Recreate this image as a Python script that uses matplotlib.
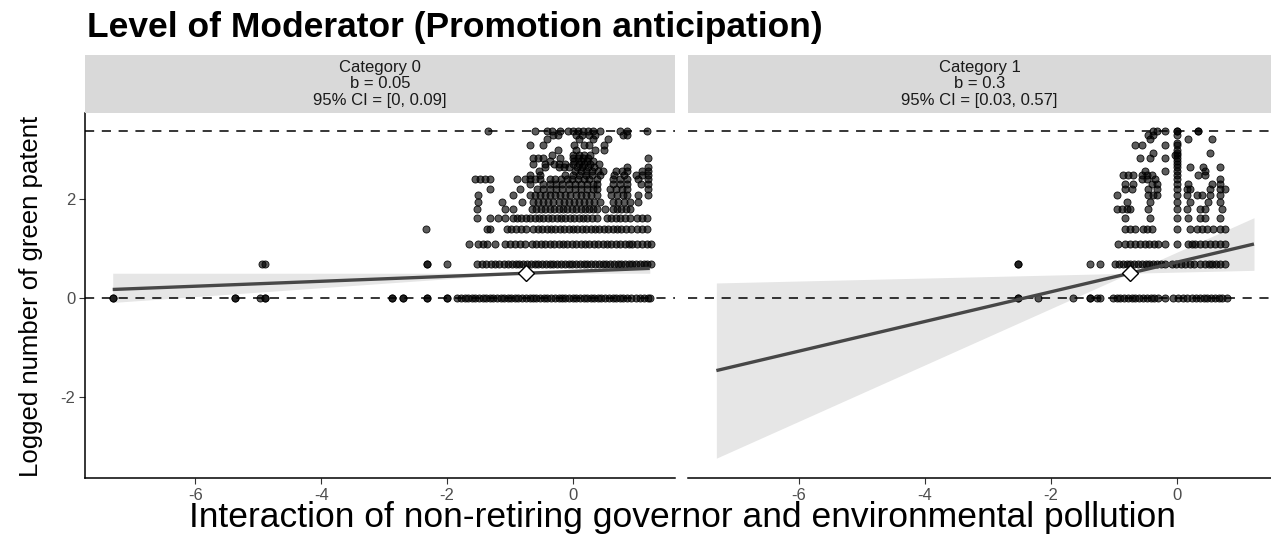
import matplotlib
matplotlib.use("Agg")
import matplotlib.pyplot as plt
import numpy as np

plt.rcParams["font.family"] = ["Liberation Sans", "DejaVu Sans"]
plt.rcParams["axes.unicode_minus"] = False

# logged outcome levels (ln of patent counts) and x positions of observations at each level
left_levels = [0.0, 0.69, 1.10, 1.39, 1.61, 1.79, 1.95, 2.08, 2.20, 2.30, 2.40, 2.48,
               2.56, 2.64, 2.71, 2.77, 2.83, 2.89, 3.00, 3.09, 3.22, 3.30, 3.37]
left_rows = [
    [-7.31, -7.31, -5.37, -5.37, -4.97, -4.89, -4.89, -2.87, -2.87, -2.70, -2.70, -2.32, -2.32,
     -2.00, -2.00, -1.84, -1.78, -1.72, -1.66, -1.60, -1.55, -1.49, -1.43, -1.38, -1.32, -1.27,
     -1.21, -1.15, -1.10, -1.04, -0.98, -0.92, -0.87, -0.81, -0.75, -0.69, -0.64, -0.58, -0.52,
     -0.46, -0.41, -0.35, -0.29, -0.23, -0.18, -0.12, -0.06, 0.00, 0.05, 0.11, 0.17, 0.22, 0.28,
     0.34, 0.40, 0.45, 0.51, 0.57, 0.63, 0.68, 0.74, 0.80, 0.86, 0.92, 1.00, 1.06, 1.12, 1.19, 1.23],
    [-4.94, -4.89, -2.32, -2.32, -2.00, -1.52, -1.45, -1.38, -1.31, -1.24, -1.17, -1.10, -1.03,
     -0.97, -0.91, -0.85, -0.79, -0.73, -0.67, -0.61, -0.55, -0.49, -0.43, -0.37, -0.31, -0.25,
     -0.19, -0.13, -0.07, -0.01, 0.05, 0.11, 0.17, 0.23, 0.29, 0.35, 0.41, 0.47, 0.53, 0.59, 0.65,
     0.71, 0.77, 0.83, 0.89, 0.94, 1.00, 1.06, 1.12, 1.18, 1.24],
    [-1.65, -1.51, -1.43, -1.37, -1.24, -1.08, -1.00, -0.92, -0.84, -0.76, -0.65, -0.58, -0.51,
     -0.44, -0.37, -0.30, -0.23, -0.16, -0.09, -0.02, 0.05, 0.12, 0.19, 0.26, 0.33, 0.40, 0.47,
     0.54, 0.61, 0.68, 0.75, 0.82, 0.89, 0.94, 1.02, 1.10, 1.18, 1.24],
    [-2.33, -1.37, -1.32, -1.05, -0.98, -0.90, -0.82, -0.74, -0.63, -0.56, -0.49, -0.42, -0.35,
     -0.28, -0.21, -0.14, -0.07, 0.00, 0.07, 0.14, 0.21, 0.28, 0.35, 0.42, 0.49, 0.56, 0.63, 0.70,
     0.77, 0.84, 0.92, 1.02, 1.10, 1.18],
    [-1.52, -1.32, -1.19, -1.08, -0.95, -0.89, -0.82, -0.75, -0.68, -0.61, -0.54, -0.47, -0.40,
     -0.33, -0.26, -0.19, -0.12, -0.05, 0.02, 0.09, 0.16, 0.23, 0.30, 0.38, 0.54, 0.61, 0.68, 0.75,
     0.82, 0.90, 1.02, 1.10, 1.18],
    [-1.52, -1.08, -0.95, -0.65, -0.58, -0.51, -0.44, -0.37, -0.30, -0.23, -0.16, -0.09, -0.02,
     0.05, 0.12, 0.19, 0.26, 0.32, 0.38, 0.51, 0.63, 0.70, 0.77, 0.84, 0.90],
    [-1.51, -1.13, -0.81, -0.63, -0.55, -0.47, -0.39, -0.31, -0.23, -0.15, -0.07, 0.01, 0.09,
     0.17, 0.25, 0.33, 0.43, 0.63, 0.72, 0.81, 0.90, 1.03],
    [-1.51, -0.95, -0.68, -0.60, -0.52, -0.44, -0.36, -0.28, -0.20, -0.12, -0.04, 0.04, 0.12,
     0.20, 0.28, 0.38, 0.60, 0.70, 0.80, 0.86, 1.03, 1.19],
    [-1.32, -0.84, -0.57, -0.47, -0.37, -0.27, -0.17, -0.07, 0.03, 0.13, 0.23, 0.31, 0.38, 0.58,
     0.68, 0.78, 0.86, 1.19],
    [-0.68, -0.47, -0.37, -0.27, -0.17, -0.07, 0.03, 0.13, 0.23, 0.31, 0.38, 0.63, 0.74, 0.86,
     1.08, 1.19],
    [-1.56, -1.48, -1.40, -1.32, -0.89, -0.76, -0.68, -0.60, -0.52, -0.37, -0.28, -0.19, -0.10,
     -0.01, 0.08, 0.17, 0.26, 0.38, 0.63, 0.74, 0.86, 1.03, 1.19],
    [-0.68, -0.52, -0.13, 0.00, 0.10, 0.20, 0.30, 0.43, 0.65, 0.81, 1.00, 1.10, 1.19],
    [-0.54, 0.03, 0.12, 0.21, 0.30, 0.39, 0.48, 0.69, 0.78, 0.86, 1.10, 1.19],
    [-0.44, -0.22, -0.14, -0.06, 0.06, 0.15, 0.24, 0.33, 0.86, 1.19],
    [-0.63, -0.44, -0.30, -0.22, -0.13, 0.00, 0.09, 0.18, 0.27, 0.41],
    [-0.37, 0.02, 0.12, 0.22, 0.31],
    [-0.63, -0.55, -0.48, -0.21, 0.00, 0.08, 0.16, 0.24, 1.19],
    [-0.34, 0.00, 0.09, 0.18, 0.27],
    [-0.24, 0.05, 0.35, 0.50],
    [-0.68, -0.47, 0.02, 0.18, 0.25, 0.50],
    [-0.41, 0.10, 0.32, 0.55],
    [-0.31, -0.24, 0.05, 0.15, 0.25, 0.35, 0.79, 0.86],
    [-1.35, -0.60, -0.41, -0.33, -0.21, -0.08, 0.00, 0.08, 0.16, 0.24, 0.32, 0.43, 0.75, 0.86, 1.17],
]

right_levels = [0.0, 0.69, 1.10, 1.39, 1.61, 1.79, 1.95, 2.08, 2.20, 2.30, 2.40, 2.48, 2.56,
                2.64, 2.71, 2.77, 2.83, 2.89, 2.94, 3.00, 3.09, 3.14, 3.22, 3.30, 3.37]
right_rows = [
    [-2.52, -2.52, -2.20, -1.65, -1.38, -1.38, -1.27, -1.22, -1.02, -0.96, -0.90, -0.84, -0.78,
     -0.72, -0.66, -0.60, -0.54, -0.48, -0.42, -0.36, -0.30, -0.19, -0.06, 0.02, 0.10, 0.16, 0.24,
     0.30, 0.36, 0.42, 0.48, 0.54, 0.60, 0.66, 0.72, 0.79],
    [-2.52, -2.52, -1.38, -1.22, -0.98, -0.92, -0.86, -0.80, -0.74, -0.68, -0.62, -0.56, -0.50,
     -0.44, -0.38, -0.32, -0.26, -0.19, -0.08, -0.01, 0.06, 0.13, 0.20, 0.27, 0.37, 0.44, 0.50,
     0.56, 0.62, 0.68, 0.76],
    [-0.94, -0.83, -0.75, -0.67, -0.59, -0.51, -0.44, -0.37, -0.30, -0.19, 0.00, 0.17, 0.23, 0.29,
     0.37, 0.45, 0.53, 0.60, 0.68, 0.76],
    [-0.83, -0.75, -0.67, -0.54, -0.47, -0.40, 0.00, 0.21, 0.32, 0.40, 0.48, 0.57, 0.68, 0.76],
    [-0.83, -0.43, 0.00, 0.17, 0.37, 0.44, 0.68],
    [-0.95, -0.87, -0.79, -0.75, -0.46, 0.00, 0.16, 0.37, 0.44, 0.71],
    [-0.79, -0.43, 0.00, 0.21, 0.49, 0.68],
    [-0.95, -0.46, -0.38, -0.32, 0.00, 0.16, 0.32, 0.40, 0.52, 0.68],
    [-0.83, -0.71, -0.46, -0.32, 0.00, 0.16, 0.21, 0.52, 0.68, 0.76],
    [-0.83, -0.70, -0.40, -0.32, 0.00, 0.17, 0.55, 0.68],
    [-0.56, -0.48, -0.35, 0.00, 0.68],
    [-0.86, -0.78, -0.70, -0.56, -0.48, -0.40, 0.00, 0.33, 0.44],
    [-0.51, -0.19, 0.00, 0.44],
    [0.00, 0.21, 0.41, 0.68],
    [0.00],
    [0.00],
    [-0.59, -0.43, -0.19, 0.00],
    [-0.03, 0.00],
    [-0.38, 0.00, 0.52],
    [0.00],
    [-0.67, -0.56, -0.19, 0.00],
    [0.00],
    [-0.43, 0.17, 0.55],
    [-0.46, -0.38, 0.00],
    [-0.38, -0.32, -0.19, 0.00, 0.00, 0.33, 0.33],
]

# simple slopes per moderator category
categories = ["Category 0", "Category 1"]
slopes = [0.05, 0.3]
ci_low = [0.0, 0.03]
ci_high = [0.09, 0.57]
mean_x = -0.75          # moderator-level mean of the predictor
mean_y = 0.5            # fitted value at the mean
x_span = [-7.31, 1.22]  # observed predictor range
y_max = 3.37            # highest logged outcome

W, H = 1271, 535
fig = plt.figure(figsize=(W / 100, H / 100), dpi=100)


def px_box(x0, y0, x1, y1):
    return [x0 / W, 1 - y1 / H, (x1 - x0) / W, (y1 - y0) / H]


panels = [
    (px_box(85, 113, 675, 478), (-7.75, 1.62), left_levels, left_rows),
    (px_box(688, 113, 1271, 478), (-7.76, 1.49), right_levels, right_rows),
]

for i, (box, xlim, levels, rows) in enumerate(panels):
    ax = fig.add_axes(box)
    xs, ys = [], []
    for lv, row in zip(levels, rows):
        xs.extend(row)
        ys.extend([lv] * len(row))

    xl = np.array(x_span)
    fit = mean_y + slopes[i] * (xl - mean_x)
    lo = mean_y + ci_low[i] * (xl - mean_x)
    hi = mean_y + ci_high[i] * (xl - mean_x)
    # confidence fan pinches at the mean, so fill each side separately
    ax.fill_between([x_span[0], mean_x], [min(lo[0], hi[0]), mean_y], [max(lo[0], hi[0]), mean_y],
                    color="#E6E6E6", lw=0, zorder=1)
    ax.fill_between([mean_x, x_span[1]], [mean_y, min(lo[1], hi[1])], [mean_y, max(lo[1], hi[1])],
                    color="#E6E6E6", lw=0, zorder=1)

    ax.axhline(0, color="black", lw=1.1, ls=(0, (6, 5)), zorder=2)
    ax.axhline(y_max, color="black", lw=1.1, ls=(0, (6, 5)), zorder=2)

    ax.scatter(xs, ys, s=26, facecolor=(0, 0, 0, 0.64), edgecolor=(0, 0, 0, 0.9),
               linewidths=0.6, zorder=3)
    ax.plot(xl, fit, color="#474747", lw=2.4, solid_capstyle="butt", zorder=4)
    ax.plot([mean_x], [mean_y], marker="D", ms=8.5, mfc="white", mec="black", mew=1.0, zorder=5)

    ax.set_xlim(*xlim)
    ax.set_ylim(-3.64, 3.74)
    ax.set_xticks([-6, -4, -2, 0])
    ax.set_yticks([-2, 0, 2])
    ax.tick_params(axis="both", length=4, width=0.8, color="#333333", labelsize=12,
                   labelcolor="#4D4D4D", pad=3)
    for side in ("top", "right"):
        ax.spines[side].set_visible(False)
    ax.spines["bottom"].set_linewidth(1.1)
    ax.spines["left"].set_linewidth(1.1)
    if i == 1:
        ax.spines["left"].set_visible(False)
        ax.tick_params(axis="y", left=False, labelleft=False)

    # facet strip
    strip = fig.add_axes([box[0], 1 - 113 / H, box[2], 58 / H])
    strip.set_facecolor("#D9D9D9")
    strip.set_xticks([])
    strip.set_yticks([])
    for sp in strip.spines.values():
        sp.set_visible(False)
    lines = [categories[i], f"b = {slopes[i]:g}", f"95% CI = [{ci_low[i]:g}, {ci_high[i]:g}]"]
    for k, t in enumerate(lines):
        strip.text(0.5, 0.78 - k * 0.28, t, ha="center", va="center", fontsize=12,
                   color="#1A1A1A", transform=strip.transAxes)

fig.text(87 / W, 1 - 37 / H, "Level of Moderator (Promotion anticipation)", fontsize=25.5,
         fontweight="bold", ha="left", va="baseline")
fig.text(682 / W, 1 - 518 / H, "Interaction of non-retiring governor and environmental pollution",
         fontsize=25.5, ha="center", va="center")
fig.text(31 / W, 1 - 296 / H, "Logged number of green patent", fontsize=18.5, rotation=90,
         ha="center", va="center")

fig.savefig("out.png", dpi=100)
